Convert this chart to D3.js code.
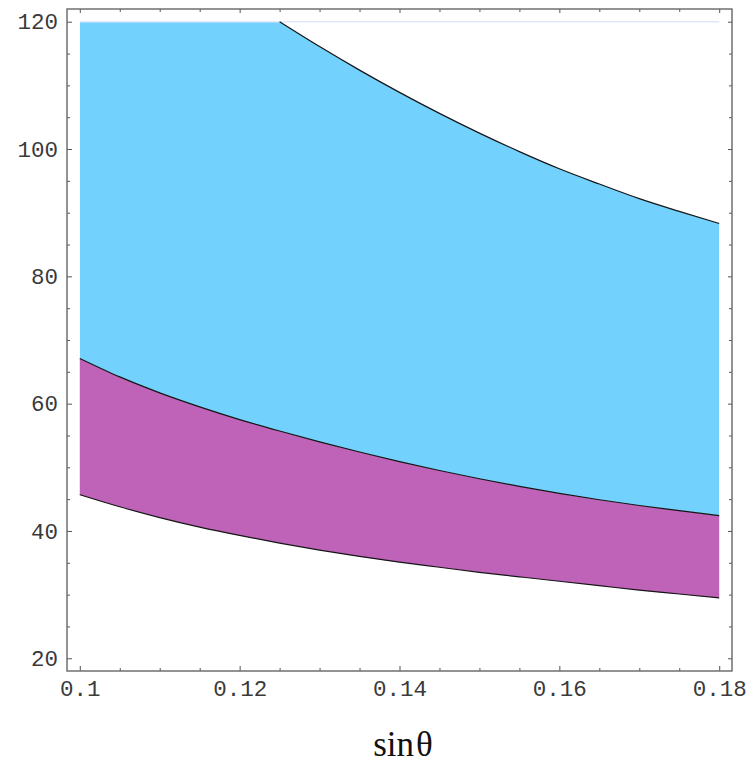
<!DOCTYPE html>
<html>
<head>
<meta charset="utf-8">
<script src="https://cdn.jsdelivr.net/npm/d3@7"></script>
<style>
  body { margin: 0; background: #fff; }
  svg { display: block; }
  .tick text { font-family: "Liberation Mono", "DejaVu Sans Mono", monospace; font-size: 22.5px; fill: #3a3a3a; }
  .tick line { stroke: #555; stroke-width: 1; }
</style>
</head>
<body>
<script>
// sin(theta) sample points
const sinTheta = [0.1, 0.105, 0.11, 0.115, 0.12, 0.125, 0.13, 0.135, 0.14,
  0.145, 0.15, 0.155, 0.16, 0.165, 0.17, 0.175, 0.18];
// top of the blue band (clipped at 120)
const upperBound = [120, 120, 120, 120, 120, 120, 116.1, 112.4, 108.9,
  105.6, 102.5, 99.6, 96.9, 94.5, 92.2, 90.2, 88.3];
// boundary between blue and purple
const middleBound = [67.1, 64.2, 61.7, 59.5, 57.5, 55.7, 54.0, 52.4, 50.9,
  49.5, 48.2, 47.0, 45.9, 44.9, 44.0, 43.2, 42.4];
// bottom of the purple band
const lowerBound = [45.7, 43.8, 42.1, 40.6, 39.3, 38.1, 37.0, 36.0, 35.1,
  34.3, 33.5, 32.8, 32.1, 31.4, 30.7, 30.1, 29.5];

const xMajor = [0.1, 0.12, 0.14, 0.16, 0.18];
const xLabels = ["0.1", "0.12", "0.14", "0.16", "0.18"];
const xMinor = [0.105, 0.11, 0.115, 0.125, 0.13, 0.135, 0.145, 0.15, 0.155, 0.165, 0.17, 0.175];
const yMajor = [20, 40, 60, 80, 100, 120];
const yMinor = [25, 30, 35, 45, 50, 55, 65, 70, 75, 85, 90, 95, 105, 110, 115];

const width = 750;
const height = 763;
const frameLeft = 67, frameRight = 732, frameTop = 9, frameBottom = 671;

const svg = d3.select("body").append("svg")
  .attr("width", width)
  .attr("height", height);

const x = d3.scaleLinear().domain([0.0984, 0.1816]).range([frameLeft, frameRight]);
const y = d3.scaleLinear().domain([18, 122]).range([frameBottom, frameTop]);

const rows = sinTheta.map((s, i) => ({
  s, up: upperBound[i], mid: middleBound[i], low: lowerBound[i]
}));
const falling = rows.filter(d => d.s >= 0.125);

const curve = d3.curveMonotoneX;
const line = key => d3.line().curve(curve).x(d => x(d.s)).y(d => y(d[key]));

// clip for the blue band: flat at 120, then the falling curve (sharp corner)
const upPath = line("up")(falling).replace(/^M/, "L");
svg.append("clipPath")
  .attr("id", "upper-clip")
  .append("path")
  .attr("d", `M${x(0.1)},${y(120)}${upPath}L${x(0.18)},${frameBottom}L${x(0.1)},${frameBottom}Z`);

svg.append("path")
  .datum(rows)
  .attr("clip-path", "url(#upper-clip)")
  .attr("fill", "#73d1fd")
  .attr("d", d3.area().curve(curve).x(d => x(d.s)).y0(d => y(d.mid)).y1(y(121)));

svg.append("path")
  .datum(rows)
  .attr("fill", "#bf63b9")
  .attr("d", d3.area().curve(curve).x(d => x(d.s)).y0(d => y(d.low)).y1(d => y(d.mid)));

// faint line along the clip level
svg.append("line")
  .attr("x1", x(0.1)).attr("x2", x(0.18))
  .attr("y1", y(120)).attr("y2", y(120))
  .attr("stroke", "#e2e8f8")
  .attr("stroke-width", 1.5);

for (const [data, key] of [[falling, "up"], [rows, "mid"], [rows, "low"]]) {
  svg.append("path")
    .datum(data)
    .attr("fill", "none")
    .attr("stroke", "#151515")
    .attr("stroke-width", 1.2)
    .attr("d", line(key));
}

// frame ticks, all pointing inwards
function ticks(axis, values, size, transform, labels) {
  const g = svg.append("g")
    .attr("transform", transform)
    .call(axis.tickValues(values).tickSizeInner(-size).tickSizeOuter(0)
      .tickPadding(labels ? 9 : 0)
      .tickFormat(labels ? (d, i) => labels[i] : () => ""));
  g.select(".domain").remove();
  return g;
}

ticks(d3.axisBottom(x), xMajor, 5, `translate(0,${frameBottom})`, xLabels);
ticks(d3.axisBottom(x), xMinor, 3, `translate(0,${frameBottom})`);
ticks(d3.axisTop(x), xMajor, 4, `translate(0,${frameTop})`);
ticks(d3.axisTop(x), xMinor, 3, `translate(0,${frameTop})`);
ticks(d3.axisLeft(y), yMajor, 5, `translate(${frameLeft},0)`, yMajor.map(String));
ticks(d3.axisLeft(y), yMinor, 3, `translate(${frameLeft},0)`);
ticks(d3.axisRight(y), yMajor, 4, `translate(${frameRight},0)`);
ticks(d3.axisRight(y), yMinor, 3, `translate(${frameRight},0)`);

svg.append("rect")
  .attr("x", frameLeft).attr("y", frameTop)
  .attr("width", frameRight - frameLeft).attr("height", frameBottom - frameTop)
  .attr("fill", "none")
  .attr("stroke", "#666")
  .attr("stroke-width", 1.4);

const label = svg.append("text")
  .attr("x", 403)
  .attr("y", 756)
  .attr("text-anchor", "middle")
  .attr("font-family", "Liberation Serif, Times New Roman, serif")
  .attr("font-size", 35)
  .attr("fill", "#111");
label.append("tspan").text("sin");
label.append("tspan").attr("dx", 2).text("θ");
</script>
</body>
</html>
